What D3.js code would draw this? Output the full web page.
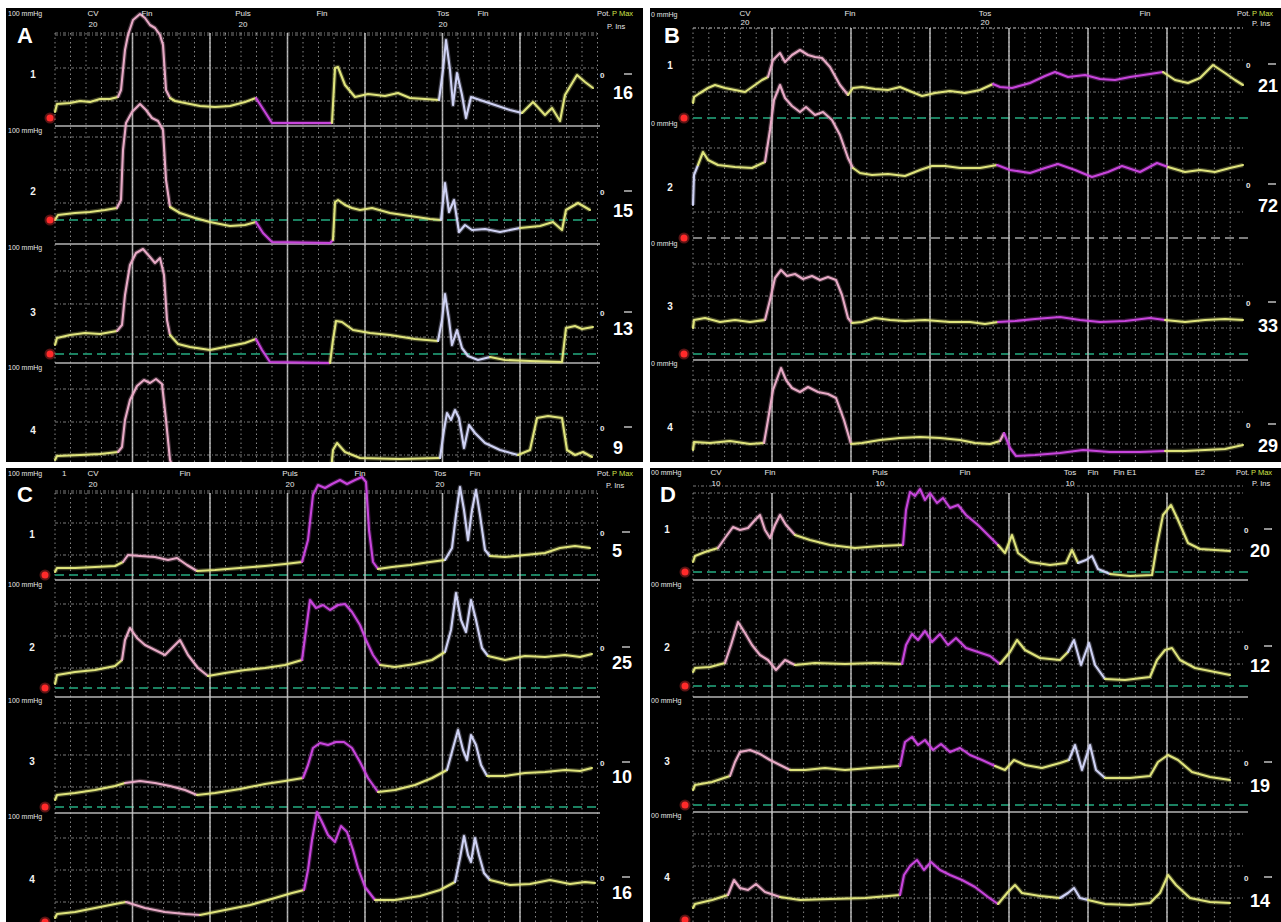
<!DOCTYPE html>
<html><head><meta charset="utf-8">
<script src="https://cdn.jsdelivr.net/npm/d3@7"></script>
<style>body{margin:0;background:#fff}svg{display:block}text{font-family:"Liberation Sans",Arial,sans-serif}</style>
</head><body><script>
// ---------------- DATA ----------------
const channels = ["1","2","3","4"];
const valuesA = [16,15,13,9];
const valuesB = [21,72,33,29];
const valuesC = [5,25,10,16];
const valuesD = [20,12,19,14];
const eventsA = [["CV","20",3.8],["Fin","",9.2],["Puls","20",18.8],["Fin","",26.7],["Tos","20",38.8],["Fin","",42.8]];
const eventsB = [["CV","20",5.2],["Fin","",15.7],["Tos","20",29.2],["Fin","",45.2]];
const eventsC = [["CV","20",3.8],["Fin","",13],["Puls","20",23.5],["Fin","",30.5],["Tos","20",38.5],["Fin","",42]];
const eventsD = [["CV","10",2.3],["Fin","",7.7],["Puls","10",18.7],["Fin","",27.2],["Tos","10",37.7],["Fin","",40],["Fin E1","",43.2],["E2","",50.7]];

// traces: [time, pressure mmHg]; phases: [start time, colour key]
const A1 = [[0,6],[0.2,14],[1.5,15],[2.5,17],[3.5,16],[4.5,19],[5.5,19],[6.3,21],[6.6,28],[7,68],[7.3,83],[7.8,98],[8.5,104],[9,100],[9.5,93],[10,90],[10.5,83],[10.8,73],[11.1,28],[11.5,20],[12,17],[13,15],[14.5,12],[16,11],[17.5,12],[19,16],[20.1,20],[21,6],[21.7,-5],[24.5,-5],[27.7,-5],[28,50],[28.3,51],[29,33],[30,21],[31.3,24],[33,22],[34.3,25],[35.5,20],[37,19],[38.4,18],[38.8,48],[39.1,78],[39.5,48],[39.8,13],[40.2,45],[40.7,23],[41.1,0],[41.6,21],[42.5,18],[44,13],[45.5,8],[46.7,5],[47.8,16],[49,3],[49.7,10],[50.5,-3],[51,23],[52.2,43],[53,36],[53.8,30]];
const A1c = [[0,"y"],[6.3,"p"],[11.5,"y"],[20.1,"m"],[27.7,"y"],[38.4,"w"],[46.7,"y"]];
const A2 = [[0,0],[0.3,5],[2,7],[3.5,8],[5,10],[6.2,12],[6.6,20],[6.8,70],[7.1,97],[7.7,108],[8.5,116],[9.1,110],[9.7,102],[10.3,99],[10.8,90],[11.1,40],[11.5,13],[12.5,7],[14,2],[15.5,-2],[17.5,-6],[19,-5],[20.1,-2],[20.8,-13],[21.7,-22],[27.5,-23],[27.8,-20],[28,18],[28.3,20],[29,15],[29.7,12],[30.5,10],[31.7,12],[33.5,7],[35.5,4],[37.5,1],[38.6,0],[39,37],[39.4,8],[39.9,20],[40.4,-12],[41,-5],[41.7,-10],[43,-9],[44.5,-12],[46.5,-8],[48.5,-6],[49.8,-2],[50.7,-10],[51.1,10],[52.3,17],[53.5,10]];
const A2c = [[0,"y"],[6.2,"p"],[11.5,"y"],[20.1,"m"],[27.8,"y"],[38.6,"w"],[46.5,"y"]];
const A3 = [[0,9],[0.2,16],[1.5,19],[3,21],[4.5,20],[6.2,23],[6.7,29],[7,59],[7.5,89],[8.1,101],[8.8,105],[9.5,97],[10,91],[10.5,96],[10.9,79],[11.2,34],[11.5,19],[12.3,10],[13.5,7],[15.5,4],[17.5,8],[19,11],[20.1,15],[20.7,4],[21.5,-8],[27.5,-9],[27.8,14],[28.1,33],[28.7,32],[29.8,24],[31.5,21],[33.5,19],[36,15],[38.3,13],[38.7,34],[39,60],[39.4,34],[39.7,9],[40.2,24],[40.7,6],[41.3,-2],[42.3,-6],[43.5,-3],[45,-6],[47.5,-7],[50.7,-8],[51.1,26],[52,28],[52.7,25],[53.8,27]];
const A3c = [[0,"y"],[6.2,"p"],[11.5,"y"],[20.1,"m"],[27.5,"y"],[38.3,"w"],[43.5,"y"]];
const A4 = [[0,12],[0.2,16],[2.5,17],[4.5,18],[6.3,20],[6.7,25],[7,52],[7.5,72],[8.2,86],[8.9,92],[9.5,89],[10.1,93],[10.7,88],[11.1,52],[11.5,12],[11.9,2],[14.5,0],[20,2],[21,-8],[27.5,-10],[27.8,22],[28.2,29],[29,20],[30.5,14],[34.5,13],[38.5,14],[38.9,42],[39.2,59],[39.6,52],[40,62],[40.4,54],[40.9,24],[41.4,47],[42,39],[43,29],[44.5,22],[46.3,17],[47.5,22],[48.2,54],[49.3,56],[50.7,54],[51.2,22],[52,17],[52.8,20],[53.7,15]];
const A4c = [[0,"y"],[6.3,"p"],[11.9,"y"],[20,"m"],[27.5,"y"],[38.5,"w"],[46.3,"y"]];

const B1 = [[0,15],[0.1,21],[0.7,25],[1.5,30],[2.2,33],[3.2,30],[4.2,28],[5.2,26],[6.2,33],[6.9,38],[7.5,41],[8,58],[8.7,65],[9.2,56],[9.9,63],[10.7,68],[11.5,63],[12.2,61],[12.9,60],[13.7,51],[14.7,33],[15.5,23],[16,30],[16.9,31],[18.2,29],[19.5,28],[20.7,31],[21.9,26],[22.9,22],[24.2,25],[25.7,27],[27.2,25],[28.7,28],[30,34],[30.7,31],[31.9,30],[33.7,35],[35.2,42],[36.2,46],[37.5,41],[39.2,43],[40.7,39],[42.2,38],[43.7,41],[45.7,44],[47,46],[48.2,38],[49.5,35],[50.7,40],[52,53],[53.2,45],[54.2,38],[55,33]];
const B1c = [[0,"y"],[7.5,"p"],[15.5,"y"],[30,"m"],[47,"y"]];
const B2 = [[0,33],[0.1,63],[0.5,73],[1,86],[1.5,78],[2.5,73],[4.2,71],[5.9,70],[7.2,76],[7.7,108],[8.1,138],[8.7,153],[9.2,140],[9.9,132],[10.7,126],[11.3,131],[12.2,123],[13,126],[13.9,118],[14.7,103],[15.5,80],[16,70],[16.7,65],[17.9,63],[19.5,64],[21.2,62],[22.7,68],[23.9,72],[25.2,72],[26.7,70],[28.7,70],[30.4,73],[31.7,68],[33.7,65],[35.2,70],[36.5,74],[38.2,68],[39.9,61],[41.5,66],[42.9,72],[44.7,66],[46.4,75],[47.5,71],[49.2,66],[50.7,68],[52.2,66],[53.7,70],[55,73]];
const B2c = [[0,"w"],[0.5,"y"],[7.2,"p"],[16,"y"],[30.4,"m"],[47.5,"y"]];
const B3 = [[0,26],[0.1,34],[1.2,36],[2.7,32],[4.2,34],[5.7,32],[7.2,34],[7.7,54],[8.2,76],[8.8,84],[9.4,78],[10.2,80],[11,75],[11.9,78],[12.7,74],[13.5,77],[14.3,74],[14.9,59],[15.5,36],[15.9,31],[16.9,32],[18.2,36],[19.7,34],[21.2,33],[23.2,34],[25.7,32],[27.7,32],[29.2,30],[30.5,32],[32.2,33],[34.2,35],[36.7,37],[38.7,34],[40.7,32],[43.2,33],[45.7,36],[47.2,34],[49.2,32],[51.2,34],[53.2,35],[55,34]];
const B3c = [[0,"y"],[7.2,"p"],[15.9,"y"],[30.5,"m"],[47.2,"y"]];
const B4 = [[0,20],[0.1,28],[1.7,27],[3.7,29],[5.7,26],[7.1,27],[7.5,50],[8,80],[8.8,102],[9.3,90],[9.9,82],[10.7,78],[11.5,83],[12.5,78],[13.5,76],[14.3,72],[15.1,50],[15.8,26],[16.9,27],[18.7,30],[20.7,32],[22.7,33],[24.7,32],[26.7,30],[28.2,27],[29.7,26],[30.7,29],[31.1,37],[31.7,22],[32.3,14],[34.2,15],[36.7,17],[39,20],[41.7,18],[44.7,18],[47.2,19],[49.2,19],[51.2,20],[53.2,21],[55,25]];
const B4c = [[0,"y"],[7.1,"p"],[15.8,"y"],[30.7,"p"],[31.1,"m"],[47.2,"y"]];

const C1 = [[0,3],[0.2,7],[2,7],[4,8],[6,9],[6.8,13],[7.3,20],[8.5,19],[10,18],[11.3,15],[12.2,17],[13.2,10],[14.2,4],[16,5],[18.5,7],[21,9],[23,11],[24.7,13],[25.3,35],[25.8,80],[26.3,90],[27,87],[27.7,91],[28.5,95],[29.2,91],[30,95],[30.7,98],[31.1,93],[31.4,45],[31.8,13],[32.3,6],[33.7,8],[35.5,10],[37.5,13],[39,15],[39.7,27],[40.1,60],[40.5,88],[40.9,65],[41.3,35],[41.7,65],[42.1,85],[42.5,60],[43,25],[43.5,19],[45,18],[47,20],[49,22],[50.5,27],[52,29],[53.5,27]];
const C1c = [[0,"y"],[6.8,"p"],[14.2,"y"],[24.7,"m"],[32.3,"y"],[39,"w"],[43.5,"y"]];
const C2 = [[0,4],[0.2,13],[2,16],[4,18],[6,22],[6.7,28],[7,48],[7.5,60],[8.2,50],[9,43],[10,38],[11,33],[11.7,40],[12.5,48],[13.3,33],[14.3,20],[15.3,12],[17,15],[19,18],[21,20],[23,23],[24.7,28],[25.1,58],[25.5,88],[26.1,80],[26.8,83],[27.5,78],[28.3,83],[29,84],[29.7,76],[30.5,63],[31.1,48],[31.8,33],[32.5,23],[34,21],[36,24],[37.7,28],[39,36],[39.6,58],[40.1,95],[40.6,68],[41.1,56],[41.6,88],[42.1,68],[42.7,40],[43.3,32],[45,28],[47,32],[49,31],[51,33],[52.5,31],[53.7,34]];
const C2c = [[0,"y"],[6.7,"p"],[15.3,"y"],[24.7,"m"],[32.5,"y"],[39,"w"],[43.3,"y"]];
const C3 = [[0,7],[0.2,12],[2,14],[4,17],[6,21],[7,24],[8.5,26],[10,24],[11.5,21],[13,17],[14.2,12],[16,14],[18.5,18],[21,23],[23,26],[24.8,29],[25.3,42],[25.8,59],[26.5,64],[27.3,62],[28.1,65],[28.9,65],[29.7,59],[30.5,45],[31.3,29],[32.3,15],[34,17],[36,22],[37.7,29],[39.2,37],[39.8,59],[40.3,77],[40.8,57],[41.2,47],[41.6,72],[42.1,62],[42.6,42],[43.2,31],[45,31],[47,34],[49,35],[51,37],[52.5,36],[53.7,39]];
const C3c = [[0,"y"],[7,"p"],[14.2,"y"],[24.8,"m"],[32.3,"y"],[39.2,"w"],[43.2,"y"]];
const C4 = [[0,4],[0.2,8],[2,10],[4,14],[6,18],[7.1,20],[9,14],[11,10],[13,8],[14.5,7],[17,12],[19.5,17],[22,24],[23.7,29],[24.9,32],[25.3,52],[25.7,82],[26.2,110],[26.7,100],[27.3,87],[28,80],[28.6,96],[29.2,90],[29.8,72],[30.3,54],[31,35],[32,22],[34,22],[36.5,26],[38.5,32],[40,40],[40.5,64],[40.9,86],[41.3,67],[41.6,60],[42,84],[42.4,67],[42.9,49],[43.5,42],[45.5,37],[47.5,38],[49.5,42],[51.5,38],[53,40],[54,39]];
const C4c = [[0,"y"],[7.1,"p"],[14.5,"y"],[24.9,"m"],[32,"y"],[40,"w"],[43.5,"y"]];

const D1 = [[0,10],[0.2,16],[1.2,20],[2.5,24],[3.2,34],[4,45],[4.7,42],[5.5,44],[6.2,52],[6.7,57],[7.2,42],[7.7,34],[8.2,47],[8.7,57],[9.3,47],[10.2,37],[11.7,32],[13.7,27],[16.2,24],[18.7,26],[21,27],[21.3,62],[21.7,80],[22.2,76],[22.7,83],[23.2,72],[23.7,79],[24.4,69],[25,74],[25.7,64],[26.5,67],[27.3,57],[28.5,47],[29.7,35],[30.5,27],[31.2,19],[31.9,37],[32.5,19],[33.7,10],[35.7,7],[37.3,9],[37.9,22],[38.5,9],[39.3,12],[39.9,16],[40.5,3],[41.7,-2],[43.7,-4],[45.9,-3],[46.4,27],[47,57],[47.8,67],[48.5,52],[49.5,29],[50.7,23],[52.2,22],[53.7,21]];
const D1c = [[0,"y"],[2.5,"p"],[10.2,"y"],[21,"m"],[30.5,"y"],[38.5,"w"],[41.7,"y"]];
const D2 = [[0,14],[0.2,18],[1.7,19],[3.2,23],[3.8,41],[4.5,64],[5.2,53],[5.9,41],[6.7,31],[7.5,26],[8.3,16],[9.2,26],[10.2,21],[12.2,23],[15.2,22],[18.2,23],[20.9,22],[21.3,41],[21.9,52],[22.5,46],[23.2,55],[23.9,44],[24.7,52],[25.5,41],[26.3,48],[27.3,38],[28.5,34],[29.7,30],[30.7,22],[31.7,34],[32.4,46],[33.2,36],[34.7,28],[36.7,26],[37.5,34],[38.1,46],[38.8,21],[39.6,43],[40.2,21],[41.2,7],[43.2,6],[45.7,9],[46.4,26],[47.2,36],[47.9,38],[48.7,26],[50.2,18],[52.2,14],[53.7,11]];
const D2c = [[0,"y"],[3.2,"p"],[10.2,"y"],[20.9,"m"],[30.7,"y"],[37.5,"w"],[41.2,"y"]];
const D3 = [[0,15],[0.2,20],[1.9,23],[3.7,29],[4.2,43],[4.7,53],[5.7,55],[6.7,51],[7.7,45],[8.7,40],[9.7,35],[11.2,35],[13.2,37],[15.2,35],[17.7,37],[20.7,39],[21.2,63],[21.9,68],[22.5,60],[23.2,65],[24,55],[24.8,61],[25.7,53],[26.7,57],[27.7,50],[28.9,45],[30.2,39],[31.2,35],[32.1,45],[33.2,40],[34.9,37],[36.7,42],[37.6,45],[38.2,60],[38.9,35],[39.7,60],[40.3,35],[41.2,27],[43.7,27],[45.7,29],[46.5,43],[47.5,50],[48.5,45],[49.9,33],[51.7,28],[53.7,25]];
const D3c = [[0,"y"],[3.7,"p"],[9.7,"y"],[20.7,"m"],[30.2,"y"],[37.6,"w"],[41.2,"y"]];
const D4 = [[0,12],[0.2,16],[1.9,20],[3.5,25],[4.1,40],[4.7,32],[5.5,30],[6.3,36],[7.2,28],[8.7,23],[10.7,20],[13.7,21],[17.2,22],[20.7,25],[21.1,45],[21.7,54],[22.4,60],[23.1,50],[23.8,58],[24.7,50],[25.7,45],[26.9,40],[28.2,33],[29.5,23],[30.5,16],[31.5,28],[32.2,35],[32.9,27],[34.7,24],[36.7,22],[37.5,27],[38.1,32],[38.7,22],[39.5,20],[41.2,16],[43.7,15],[45.7,17],[46.7,27],[47.5,45],[48.3,35],[49.7,22],[51.7,18],[53.7,17]];
const D4c = [[0,"y"],[3.5,"p"],[8.7,"y"],[20.7,"m"],[30.5,"y"],[36.7,"w"],[39.5,"y"]];

// ---------------- LAYOUT / STYLE ----------------
const COL = {y:"#dfe47c", p:"#e8aac6", m:"#c845dc", w:"#cfd2f4"};
const layout = {
  A:{rect:[6,8,637,454], px:[55,595], tmax:54, major:7.75, zeros:[118,220,354,472], seps:[126,244,363], zl:[0,1,1,0], gridTop:33, mk:50, hdr:[16,27], letter:[17,43], chX:33, chY:[78,195,316,434], zX:600, dX:624, vX:613, zY:[78,195,316,431], vY:[99,217,335,454], mmX:8, mm:"100 mmHg", mmY:[16,133,250,370], dots:[17,50,83], pot:[597,16,607,29]},
  B:{rect:[650,8,631,454], px:[693,1243], tmax:55, major:7.9, zeros:[118,238,354,470], seps:[null,null,360], zl:[1,2,1,0], gridTop:28, mk:684, hdr:[16,25], letter:[664,43], chX:670, chY:[69,191,310,431], zX:1246, dX:1268, vX:1258, zY:[68,188,306,428], vY:[92,212,332,452], mmX:651, mm:"0 mmHg", mmY:[17,126,246,366], dots:[26,58,90], pot:[1237,16,1252,26]},
  C:{rect:[6,468,637,454], px:[55,595], tmax:54, major:7.75, zeros:[575,688,807,922], seps:[580,697,813], zl:[1,1,1,0], gridTop:493, mk:45, hdr:[476,487], letter:[17,502], chX:32, chY:[538,651,765,883], zX:600, dX:622, vX:612, zY:[536,651,766,881], vY:[557,669,783,899], mmX:8, mm:"100 mmHg", mmY:[476,587,703,819], dots:[20,52,84], pot:[597,476,606,488]},
  D:{rect:[650,468,631,454], px:[693,1243], tmax:55, major:7.9, zeros:[572,686,805,920], seps:[580,697,812], zl:[1,1,1,0], gridTop:493, mk:685, hdr:[475,486], letter:[660,502], chX:667, chY:[533,651,765,881], zX:1244, dX:1264, vX:1250, zY:[533,650,766,881], vY:[557,672,792,907], mmX:651, mm:"00 mmHg", mmY:[475,587,703,818], dots:[22,54,86], pot:[1236,475,1252,486]}
};

const W = 1281, H = 922;
const svg = d3.select("body").append("svg").attr("width", W).attr("height", H);
svg.append("rect").attr("width", W).attr("height", H).attr("fill", "#fff");
const defs = svg.append("defs");

function segments(pts, phases) {
  const colAt = t => { let c = phases[0][1]; for (const [s,k] of phases) if (t >= s) c = k; return c; };
  const segs = []; let cur = null;
  for (let i = 0; i < pts.length - 1; i++) {
    const c = colAt((pts[i][0] + pts[i+1][0]) / 2);
    if (!cur || cur.c !== c) { cur = {c, pts:[pts[i]]}; segs.push(cur); }
    cur.pts.push(pts[i+1]);
  }
  return segs;
}

function drawPanel(id, L, traces, phases, events, values) {
  const [rx, ry, rw, rh] = L.rect;
  const bottom = ry + rh;
  defs.append("clipPath").attr("id", "clip" + id).append("rect")
    .attr("x", rx).attr("y", ry).attr("width", rw).attr("height", rh);
  const g = svg.append("g").attr("clip-path", `url(#clip${id})`);
  g.append("rect").attr("x", rx).attr("y", ry).attr("width", rw).attr("height", rh).attr("fill", "#000");

  const x = d3.scaleLinear().domain([0, L.tmax]).range(L.px);
  const ys = L.zeros.map(z => d3.scaleLinear().domain([0, 100]).range([z, z - 100]));

  // minor vertical dotted grid
  const minor = d3.range(0, L.tmax + 0.3, L.major / 5);
  g.append("g").selectAll("line").data(minor).join("line")
    .attr("x1", d => x(d)).attr("x2", d => x(d)).attr("y1", L.gridTop).attr("y2", bottom)
    .attr("stroke", "#a8a8a8").attr("stroke-width", 1).attr("stroke-dasharray", "1.5,3").attr("opacity", 0.8);
  // horizontal dotted grid
  const hl = [];
  ys.forEach(y => L.dots.forEach(p => hl.push(y(p))));
  hl.push(L.gridTop);
  g.append("g").selectAll("line").data(hl).join("line")
    .attr("x1", L.px[0]).attr("x2", L.px[1] + 2).attr("y1", d => d).attr("y2", d => d)
    .attr("stroke", "#b0b0b0").attr("stroke-width", 1).attr("stroke-dasharray", "3,2,1,2").attr("opacity", 0.7);
  // zero lines and separators
  ys.forEach((y, i) => {
    if (L.zl[i]) {
      g.append("line").attr("x1", L.px[0]).attr("x2", L.px[1] + 5).attr("y1", y(0)).attr("y2", y(0))
        .attr("stroke", L.zl[i] === 1 ? "#1f8f6c" : "#8a8a8a").attr("stroke-width", 2)
        .attr("stroke-dasharray", "9,5").attr("opacity", 0.9);
    }
    const s = L.seps[i];
    if (s) {
      g.append("line").attr("x1", L.px[0]).attr("x2", L.px[1] + 5).attr("y1", s).attr("y2", s)
        .attr("stroke", "#b4b4b4").attr("stroke-width", 1.6);
    }
  });
  // major vertical lines
  const majors = d3.range(1, 7).map(k => k * L.major);
  g.append("g").selectAll("line").data(majors).join("line")
    .attr("x1", d => x(d)).attr("x2", d => x(d)).attr("y1", L.gridTop).attr("y2", bottom)
    .attr("stroke", "#c8c8c8").attr("stroke-width", 1.6).attr("opacity", 0.85);

  // traces
  traces.forEach((pts, i) => {
    const y = ys[i];
    const line = d3.line().x(d => x(d[0])).y(d => y(d[1]));
    segments(pts, phases[i]).forEach(s => {
      g.append("path").attr("d", line(s.pts)).attr("fill", "none").attr("stroke", COL[s.c])
        .attr("stroke-width", 4.5).attr("opacity", 0.28).attr("stroke-linejoin", "round");
      g.append("path").attr("d", line(s.pts)).attr("fill", "none").attr("stroke", COL[s.c])
        .attr("stroke-width", 2.1).attr("stroke-linejoin", "round").attr("stroke-linecap", "round");
    });
  });

  // red markers
  ys.forEach(y => {
    g.append("circle").attr("cx", L.mk).attr("cy", y(0)).attr("r", 5.5).attr("fill", "#ff3a3a").attr("opacity", 0.35);
    g.append("circle").attr("cx", L.mk).attr("cy", y(0)).attr("r", 3.5).attr("fill", "#ff2a2a");
  });

  // header texts
  const T = (tx, ty, s, opt = {}) => g.append("text").attr("x", tx).attr("y", ty).text(s)
    .attr("fill", opt.fill || "#e6e6e6").attr("font-size", opt.size || 8)
    .attr("font-weight", opt.bold ? "bold" : "normal")
    .attr("text-anchor", opt.anchor || "start");
  events.forEach(([a, b, t]) => {
    T(x(t), L.hdr[0], a, {anchor: "middle"});
    if (b) T(x(t), L.hdr[1], b, {anchor: "middle"});
  });
  T(L.pot[0], L.pot[1], "Pot.", {size: 7.5});
  T(L.pot[0] + 15, L.pot[1], "P Max", {size: 7.5, fill: "#cde24a"});
  T(L.pot[2], L.pot[3], "P. Ins", {size: 7.5});
  L.mmY.forEach(v => T(L.mmX, v, L.mm, {size: 7}));
  if (id === "C") T(62, L.mmY[0], "1", {size: 8});

  // panel letter
  T(L.letter[0], L.letter[1], id, {size: 22, bold: true, fill: "#fff"});
  // channel labels and right-side values
  channels.forEach((c, i) => {
    T(L.chX, L.chY[i], c, {size: 10, bold: true, fill: "#f2f2f2", anchor: "middle"});
    T(L.zX, L.zY[i], "0", {size: 8, bold: true});
    g.append("line").attr("x1", L.dX).attr("x2", L.dX + 8).attr("y1", L.zY[i] - 4).attr("y2", L.zY[i] - 4)
      .attr("stroke", "#ddd").attr("stroke-width", 1.3);
    T(L.vX, L.vY[i], String(values[i]), {size: 18, bold: true, fill: "#fff"});
  });
}

drawPanel("A", layout.A, [A1,A2,A3,A4], [A1c,A2c,A3c,A4c], eventsA, valuesA);
drawPanel("B", layout.B, [B1,B2,B3,B4], [B1c,B2c,B3c,B4c], eventsB, valuesB);
drawPanel("C", layout.C, [C1,C2,C3,C4], [C1c,C2c,C3c,C4c], eventsC, valuesC);
drawPanel("D", layout.D, [D1,D2,D3,D4], [D1c,D2c,D3c,D4c], eventsD, valuesD);
</script></body></html>
